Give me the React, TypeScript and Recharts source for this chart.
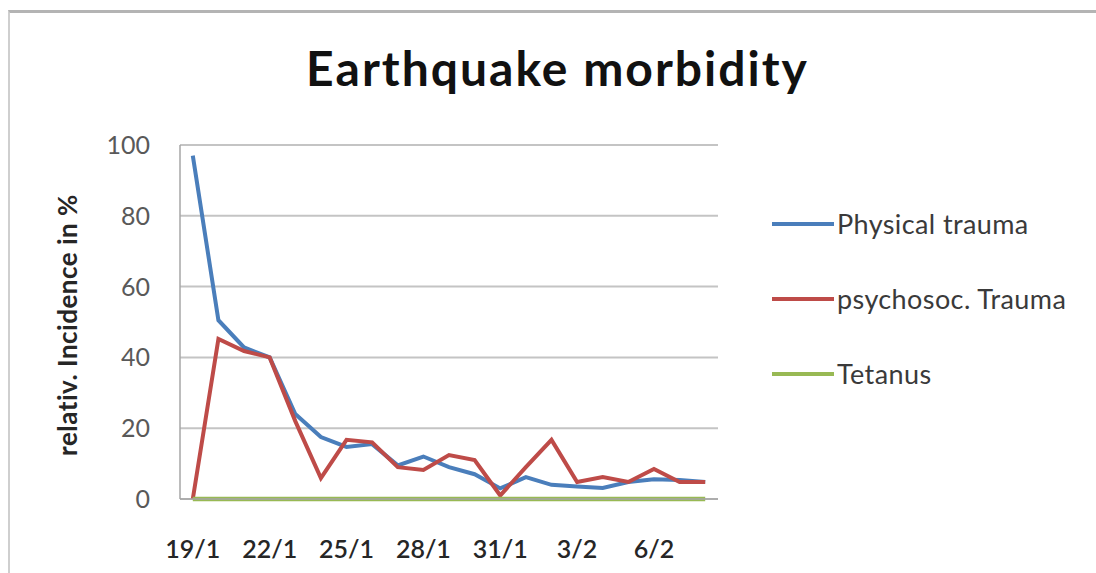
import React from 'react';
import { LineChart, Line, XAxis, YAxis, CartesianGrid, Legend } from 'recharts';

const dates = ['19/1', '20/1', '21/1', '22/1', '23/1', '24/1', '25/1', '26/1', '27/1', '28/1', '29/1', '30/1', '31/1', '1/2', '2/2', '3/2', '4/2', '5/2', '6/2', '7/2', '8/2'];
const physicalTrauma = [97, 50.5, 42.8, 40, 24, 17.5, 14.7, 15.5, 9.5, 12, 9, 7, 3, 6.2, 4, 3.5, 3.1, 4.8, 5.6, 5.4, 4.8];
const psychosocTrauma = [0, 45.2, 41.8, 40, 22, 5.9, 16.7, 16, 9, 8.2, 12.4, 11, 1, 9, 16.7, 4.8, 6.2, 4.8, 8.5, 4.8, 4.8];
const tetanus = [0, 0, 0, 0, 0, 0, 0, 0, 0, 0, 0, 0, 0, 0, 0, 0, 0, 0, 0, 0, 0];
const yTicks = [0, 20, 40, 60, 80, 100];
const seriesOrder = ['physical', 'psycho', 'tetanus'];

const data = dates.map((d, i) => ({
  date: d,
  physical: physicalTrauma[i],
  psycho: psychosocTrauma[i],
  tetanus: tetanus[i],
}));

const FONT = 'Lato, "Open Sans", sans-serif';

const renderLegend = (props: any) => {
  const payload = [...(props.payload || [])].sort(
    (a: any, b: any) => seriesOrder.indexOf(a.dataKey) - seriesOrder.indexOf(b.dataKey)
  );
  return (
    <div style={{ fontFamily: FONT }}>
      {payload.map((e: any, i: number) => (
        <div key={i} style={{ display: 'flex', alignItems: 'center', height: 75 }}>
          <svg width={62} height={6} style={{ display: 'block' }}>
            <line x1={0} y1={3} x2={62} y2={3} stroke={e.color} strokeWidth={4} />
          </svg>
          <span style={{ marginLeft: 3, fontSize: 27, letterSpacing: 0.4, color: '#3a3a3a', whiteSpace: 'nowrap' }}>{e.value}</span>
        </div>
      ))}
    </div>
  );
};

const XTick = (props: any) => {
  const { x, y, payload } = props;
  return (
    <text x={x} y={y + 59} textAnchor="middle" fontFamily={FONT} fontSize={25} fontWeight={600} fill="#262626">
      {payload.value}
    </text>
  );
};

const YTick = (props: any) => {
  const { x, y, payload } = props;
  return (
    <text x={x} y={y + 9} textAnchor="end" fontFamily={FONT} fontSize={25} fill="#595959">
      {payload.value}
    </text>
  );
};

export default function App() {
  return (
    <div style={{ position: 'absolute', left: 0, top: 0, width: 1096, height: 573, background: '#fff', overflow: 'hidden' }}>
      <div style={{ position: 'absolute', left: 8, top: 10, right: 0, bottom: 0, borderTop: '3px solid #b4b4b4', borderLeft: '2px solid #cfcfcf' }} />
      <div
        style={{
          position: 'absolute',
          left: 0,
          width: 1115,
          top: 40,
          textAlign: 'center',
          fontFamily: FONT,
          fontWeight: 700,
          fontSize: 48,
          letterSpacing: 2,
          lineHeight: '56px',
          color: '#111',
        }}
      >
        Earthquake morbidity
      </div>
      <div
        style={{
          position: 'absolute',
          left: 67,
          top: 325,
          transform: 'translate(-50%, -50%) rotate(-90deg)',
          fontFamily: FONT,
          fontWeight: 700,
          fontSize: 26,
          letterSpacing: 0.5,
          color: '#262626',
          whiteSpace: 'nowrap',
        }}
      >
        relativ. Incidence in %
      </div>
      <div style={{ position: 'absolute', left: 0, top: 0 }}>
        <LineChart width={1096} height={573} data={data} margin={{ top: 145, right: 378, bottom: 0, left: 120 }}>
          <CartesianGrid vertical={false} stroke="#c4c4c4" strokeWidth={2} />
          <XAxis
            dataKey="date"
            interval={2}
            height={74}
            tickLine={false}
            tickSize={0}
            tickMargin={0}
            axisLine={{ stroke: '#a6a6a6', strokeWidth: 1.5 }}
            padding={{ left: 12.8, right: 12.8 }}
            tick={<XTick />}
          />
          <YAxis
            width={60}
            domain={[0, 100]}
            ticks={yTicks}
            tickLine={false}
            tickSize={0}
            tickMargin={30}
            axisLine={{ stroke: '#a6a6a6', strokeWidth: 1.5 }}
            tick={<YTick />}
          />
          <Legend
            layout="vertical"
            align="center"
            verticalAlign="middle"
            content={renderLegend}
            wrapperStyle={{ position: 'absolute', left: 772, top: 186, width: 320 }}
          />
          <Line type="linear" dataKey="physical" name="Physical trauma" stroke="#4a7ebb" strokeWidth={4} dot={false} isAnimationActive={false} />
          <Line type="linear" dataKey="psycho" name="psychosoc. Trauma" stroke="#be4b48" strokeWidth={4} dot={false} isAnimationActive={false} />
          <Line type="linear" dataKey="tetanus" name="Tetanus" stroke="#98b954" strokeWidth={4.5} dot={false} isAnimationActive={false} />
        </LineChart>
      </div>
    </div>
  );
}
